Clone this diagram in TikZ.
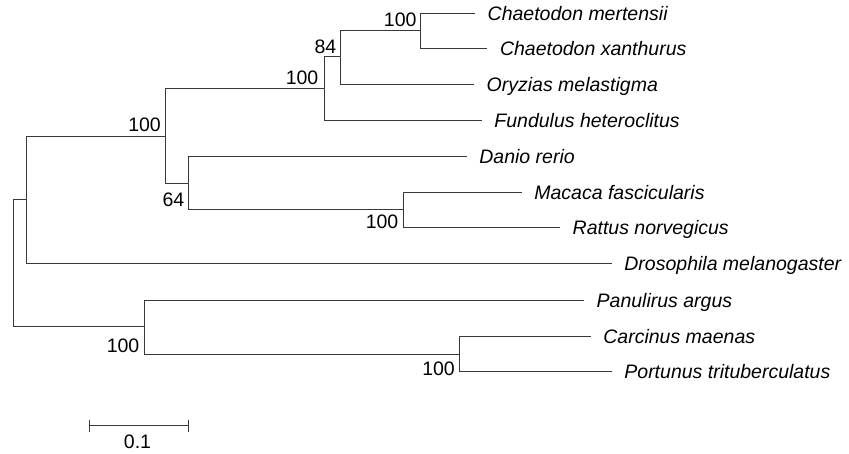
\documentclass[tikz,border=0pt]{standalone}
\usepackage{fontspec}
\setmainfont{Liberation Sans}
\begin{document}
\begin{tikzpicture}[x=1pt,y=-1pt,
  branch/.style={draw=black!78,line width=1.25pt},
  taxon/.style={anchor=base west,inner sep=0pt,xshift=12.5pt,yshift=-6.8pt,
    font=\fontsize{19.5}{22}\selectfont\itshape},
  boot/.style={anchor=base east,inner sep=0pt,font=\fontsize{19.5}{22}\selectfont},
  scaletxt/.style={anchor=base,inner sep=0pt,font=\fontsize{19.5}{22}\selectfont}]
\useasboundingbox (0,0) rectangle (849,453);

% internal nodes
\coordinate (root) at (13.5,263.5);
\coordinate (nA) at (26.5,199.5);
\coordinate (nB) at (165.5,136.5);
\coordinate (nC) at (324.5,88.5);
\coordinate (nD) at (340.5,56.5);
\coordinate (nE) at (420.5,30.5);
\coordinate (nF) at (188.5,183.5);
\coordinate (nG) at (403.5,209.5);
\coordinate (nH) at (144.5,326.5);
\coordinate (nI) at (459.5,354.5);

% leaf tips
\coordinate (mer) at (475,13.5);
\coordinate (xan) at (487.3,48.5);
\coordinate (ory) at (474,84.5);
\coordinate (fun) at (481.7,120.5);
\coordinate (dan) at (466.7,156.5);
\coordinate (mac) at (521.7,192.5);
\coordinate (rat) at (560,227.5);
\coordinate (dro) at (611.7,263.5);
\coordinate (pan) at (584,300.5);
\coordinate (car) at (590.7,336.5);
\coordinate (por) at (611.7,371.5);

% branches
\draw[branch] (nA) -| (root) |- (nH);
\draw[branch] (nB) -| (nA) |- (dro);
\draw[branch] (nC) -| (nB) |- (nF);
\draw[branch] (nD) -| (nC) |- (fun);
\draw[branch] (nE) -| (nD) |- (ory);
\draw[branch] (mer) -| (nE) |- (xan);
\draw[branch] (dan) -| (nF) |- (nG);
\draw[branch] (mac) -| (nG) |- (rat);
\draw[branch] (pan) -| (nH) |- (nI);
\draw[branch] (car) -| (nI) |- (por);

% taxon names
\node[taxon] (tmer) at (mer) {Chaetodon mertensii};
\node[taxon] (txan) at (xan) {Chaetodon xanthurus};
\node[taxon] (tory) at (ory) {Oryzias melastigma};
\node[taxon] (tfun) at (fun) {Fundulus heteroclitus};
\node[taxon] (tdan) at (dan) {Danio rerio};
\node[taxon] (tmac) at (mac) {Macaca fascicularis};
\node[taxon] (trat) at (rat) {Rattus norvegicus};
\node[taxon] (tdro) at (dro) {Drosophila melanogaster};
\node[taxon] (tpan) at (pan) {Panulirus argus};
\node[taxon] (tcar) at (car) {Carcinus maenas};
\node[taxon] (tpor) at (por) {Portunus trituberculatus};

% bootstrap support values
\node[boot] (bB) at (161,131.5) {100};
\node[boot] (bC) at (318.5,84) {100};
\node[boot] (bD) at (336.5,53.3) {84};
\node[boot] (bE) at (416.7,26.7) {100};
\node[boot] (bF) at (184.5,206) {64};
\node[boot] (bG) at (398.5,228.5) {100};
\node[boot] (bH) at (139.5,352.3) {100};
\node[boot] (bI) at (455,375.7) {100};

% scale bar
\coordinate (sbl) at (89.5,425.5);
\coordinate (sbr) at (188.5,425.5);
\draw[branch] (sbl) -- (sbr);
\draw[branch] ([yshift=6pt]sbl) -- ([yshift=-6pt]sbl);
\draw[branch] ([yshift=6pt]sbr) -- ([yshift=-6pt]sbr);
\node[scaletxt] (sbt) at (137.5,448.3) {0.1};
\end{tikzpicture}
\end{document}
